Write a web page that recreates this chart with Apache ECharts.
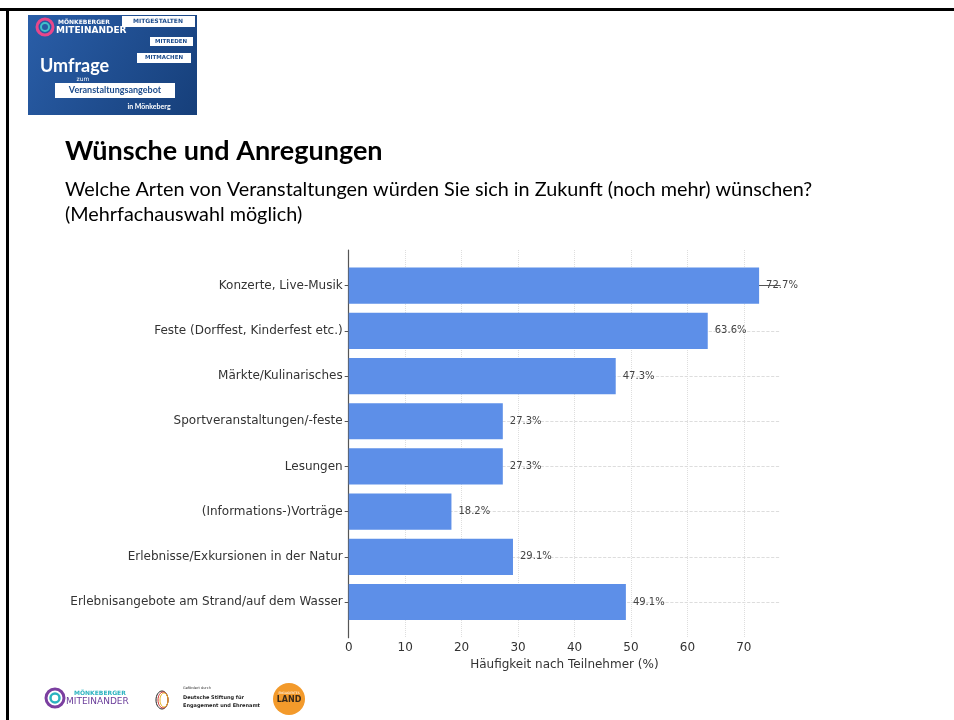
<!DOCTYPE html>
<html>
<head>
<meta charset="utf-8">
<script src="https://cdn.jsdelivr.net/npm/echarts@6/dist/echarts.min.js"></script>
<style>
html,body{margin:0;padding:0;background:#fff;}
#chart{width:954px;height:720px;}
</style>
</head>
<body>
<div id="chart"></div>
<script>
const categories = [
  "Konzerte, Live-Musik",
  "Feste (Dorffest, Kinderfest etc.)",
  "Märkte/Kulinarisches",
  "Sportveranstaltungen/-feste",
  "Lesungen",
  "(Informations-)Vorträge",
  "Erlebnisse/Exkursionen in der Natur",
  "Erlebnisangebote am Strand/auf dem Wasser"
];
const values = [72.7, 63.6, 47.3, 27.3, 27.3, 18.2, 29.1, 49.1];
const xTicks = [0, 10, 20, 30, 40, 50, 60, 70];
const yTicks = [0, 1, 2, 3, 4, 5, 6, 7];

const titleText = "Wünsche und Anregungen";
const subtitle1 = "Welche Arten von Veranstaltungen würden Sie sich in Zukunft (noch mehr) wünschen?";
const subtitle2 = "(Mehrfachauswahl möglich)";
const xAxisName = "Häufigkeit nach Teilnehmer (%)";

const barColor = '#5d8fe8';
const fontChart = 'DejaVu Sans';
const fontSlide = 'Lato';

const chart = echarts.init(document.getElementById('chart'), null, {renderer: 'canvas'});

const graphics = [
  // slide frame
  {type:'rect', shape:{x:0,y:8,width:954,height:3}, style:{fill:'#000'}, silent:true},
  {type:'rect', shape:{x:6,y:8,width:3,height:712}, style:{fill:'#000'}, silent:true},
  // top-left banner
  {type:'rect', shape:{x:28,y:15,width:169,height:100}, style:{fill:new echarts.graphic.LinearGradient(0,0,1,1,[{offset:0,color:'#2a5ea8'},{offset:1,color:'#163f7a'}])}},
  {type:'circle', shape:{cx:45,cy:27,r:8}, style:{fill:'none', stroke:'#e8478b', lineWidth:3}},
  {type:'circle', shape:{cx:45,cy:27,r:4}, style:{fill:'none', stroke:'#3fc1c9', lineWidth:2}},
  {type:'text', style:{x:58,y:19,text:'MÖNKEBERGER',fill:'#fff',font:'bold 6px '+fontChart}},
  {type:'text', style:{x:56,y:26,text:'MITEINANDER',fill:'#fff',font:'bold 9px '+fontChart}},
  {type:'rect', shape:{x:122,y:16,width:73,height:11}, style:{fill:'#fff'}},
  {type:'text', style:{x:158,y:21.5,text:'MITGESTALTEN',fill:'#1d4c8c',font:'bold 6px '+fontChart,align:'center',verticalAlign:'middle'}},
  {type:'rect', shape:{x:150,y:37,width:43,height:9}, style:{fill:'#fff'}},
  {type:'text', style:{x:171,y:41.5,text:'MITREDEN',fill:'#1d4c8c',font:'bold 5.5px '+fontChart,align:'center',verticalAlign:'middle'}},
  {type:'rect', shape:{x:137,y:53,width:54,height:10}, style:{fill:'#fff'}},
  {type:'text', style:{x:164,y:58,text:'MITMACHEN',fill:'#1d4c8c',font:'bold 5.5px '+fontChart,align:'center',verticalAlign:'middle'}},
  {type:'text', style:{x:40,y:66,text:'Umfrage',fill:'#fff',font:'bold 18px '+fontSlide,verticalAlign:'middle'}},
  {type:'text', style:{x:83,y:79,text:'zum',fill:'#fff',font:'6px '+fontChart,align:'center',verticalAlign:'middle'}},
  {type:'rect', shape:{x:55,y:83,width:120,height:15}, style:{fill:'#fff'}},
  {type:'text', style:{x:115,y:90.5,text:'Veranstaltungsangebot',fill:'#1d4c8c',font:'bold 9px '+fontSlide,align:'center',verticalAlign:'middle'}},
  {type:'text', style:{x:149,y:107,text:'in Mönkeberg',fill:'#fff',font:'bold 7px '+fontSlide,align:'center',verticalAlign:'middle'}},
  // titles
  {type:'text', style:{x:65,y:151,text:titleText,fill:'#000',font:'bold 27px '+fontSlide,verticalAlign:'middle'}},
  {type:'text', style:{x:65,y:190,text:subtitle1,fill:'#000',font:'19.8px '+fontSlide,verticalAlign:'middle'}},
  {type:'text', style:{x:65,y:215,text:subtitle2,fill:'#000',font:'19.8px '+fontSlide,verticalAlign:'middle'}},
  // bottom logos
  {type:'circle', shape:{cx:55,cy:698,r:9}, style:{fill:'none', stroke:'#7b3fa0', lineWidth:3}},
  {type:'circle', shape:{cx:55,cy:698,r:4.5}, style:{fill:'none', stroke:'#2bb3c0', lineWidth:2.5}},
  {type:'text', style:{x:74,y:693,text:'MÖNKEBERGER',fill:'#2bb3c0',font:'bold 6px '+fontChart,verticalAlign:'middle'}},
  {type:'text', style:{x:66,y:702,text:'MITEINANDER',fill:'#6a3d9a',font:'9px '+fontChart,verticalAlign:'middle'}},
  {type:'ellipse', shape:{cx:162,cy:700,rx:6,ry:9}, style:{fill:'none', stroke:'#222', lineWidth:1}},
  {type:'ellipse', shape:{cx:163,cy:700,rx:5,ry:8}, style:{fill:'none', stroke:'#d0312d', lineWidth:1}},
  {type:'ellipse', shape:{cx:164,cy:700,rx:4,ry:7}, style:{fill:'none', stroke:'#e8b622', lineWidth:1}},
  {type:'text', style:{x:183,y:688,text:'Gefördert durch',fill:'#333',font:'3.5px '+fontChart,verticalAlign:'middle'}},
  {type:'text', style:{x:183,y:698,text:'Deutsche Stiftung für',fill:'#222',font:'bold 5px '+fontChart,verticalAlign:'middle'}},
  {type:'text', style:{x:183,y:706,text:'Engagement und Ehrenamt',fill:'#222',font:'bold 5px '+fontChart,verticalAlign:'middle'}},
  {type:'circle', shape:{cx:289,cy:699,r:16}, style:{fill:'#f39a2b'}},
  {type:'text', style:{x:289,y:693,text:'ENGAGIERTES',fill:'#fff',font:'3px '+fontChart,align:'center',verticalAlign:'middle'}},
  {type:'text', style:{x:289,y:700,text:'LAND',fill:'#3a2a1a',font:'bold 8px '+fontChart,align:'center',verticalAlign:'middle'}}
];

const option = {
  backgroundColor: '#fff',
  animation: false,
  graphic: graphics,
  grid: {left: 348.7, right: 174, top: 250, bottom: 82.3, containLabel: false},
  xAxis: {
    type: 'value',
    min: 0,
    max: 76.4,
    name: xAxisName,
    nameLocation: 'middle',
    nameGap: 18,
    nameTextStyle: {fontFamily: fontChart, fontSize: 12, color: '#333'},
    axisLine: {show: true, lineStyle: {color: '#555', width: 1.2}},
    axisTick: {show: true, length: 4, lineStyle: {color: '#555'}, customValues: xTicks},
    axisLabel: {customValues: xTicks, fontFamily: fontChart, fontSize: 12, color: '#333', margin: 4},
    splitLine: {show: true, lineStyle: {color: '#dedede', type: 'dotted', width: 1}}
  },
  yAxis: {
    type: 'value',
    inverse: true,
    min: -0.79,
    max: 7.79,
    axisLine: {show: true, lineStyle: {color: '#555', width: 1.2}},
    axisTick: {show: true, length: 4, lineStyle: {color: '#555'}, customValues: yTicks},
    axisLabel: {
      customValues: yTicks,
      fontFamily: fontChart, fontSize: 12, color: '#333', margin: 6,
      formatter: v => categories[Math.round(v)] || ''
    },
    splitLine: {show: true, lineStyle: {color: '#d4d4d4', type: 'dashed', width: 0.8}}
  },
  series: [{
    type: 'custom',
    clip: false,
    encode: {x: 0, y: 1},
    data: values.map((v, i) => [v, i]),
    renderItem: function (params, api) {
      const v = api.value(0);
      const idx = api.value(1);
      const start = api.coord([0, idx]);
      const end = api.coord([v, idx]);
      const h = api.size([0, 0.8])[1];
      return {
        type: 'group',
        children: [
          {type: 'rect', shape: {x: start[0], y: start[1] - h / 2, width: end[0] - start[0], height: h}, style: {fill: barColor}},
          {type: 'text', style: {x: end[0] + 7, y: end[1], text: v.toFixed(1) + '%', fill: '#444', font: '10px ' + fontChart, verticalAlign: 'middle'}}
        ]
      };
    }
  }]
};
chart.setOption(option);
</script>
</body>
</html>
